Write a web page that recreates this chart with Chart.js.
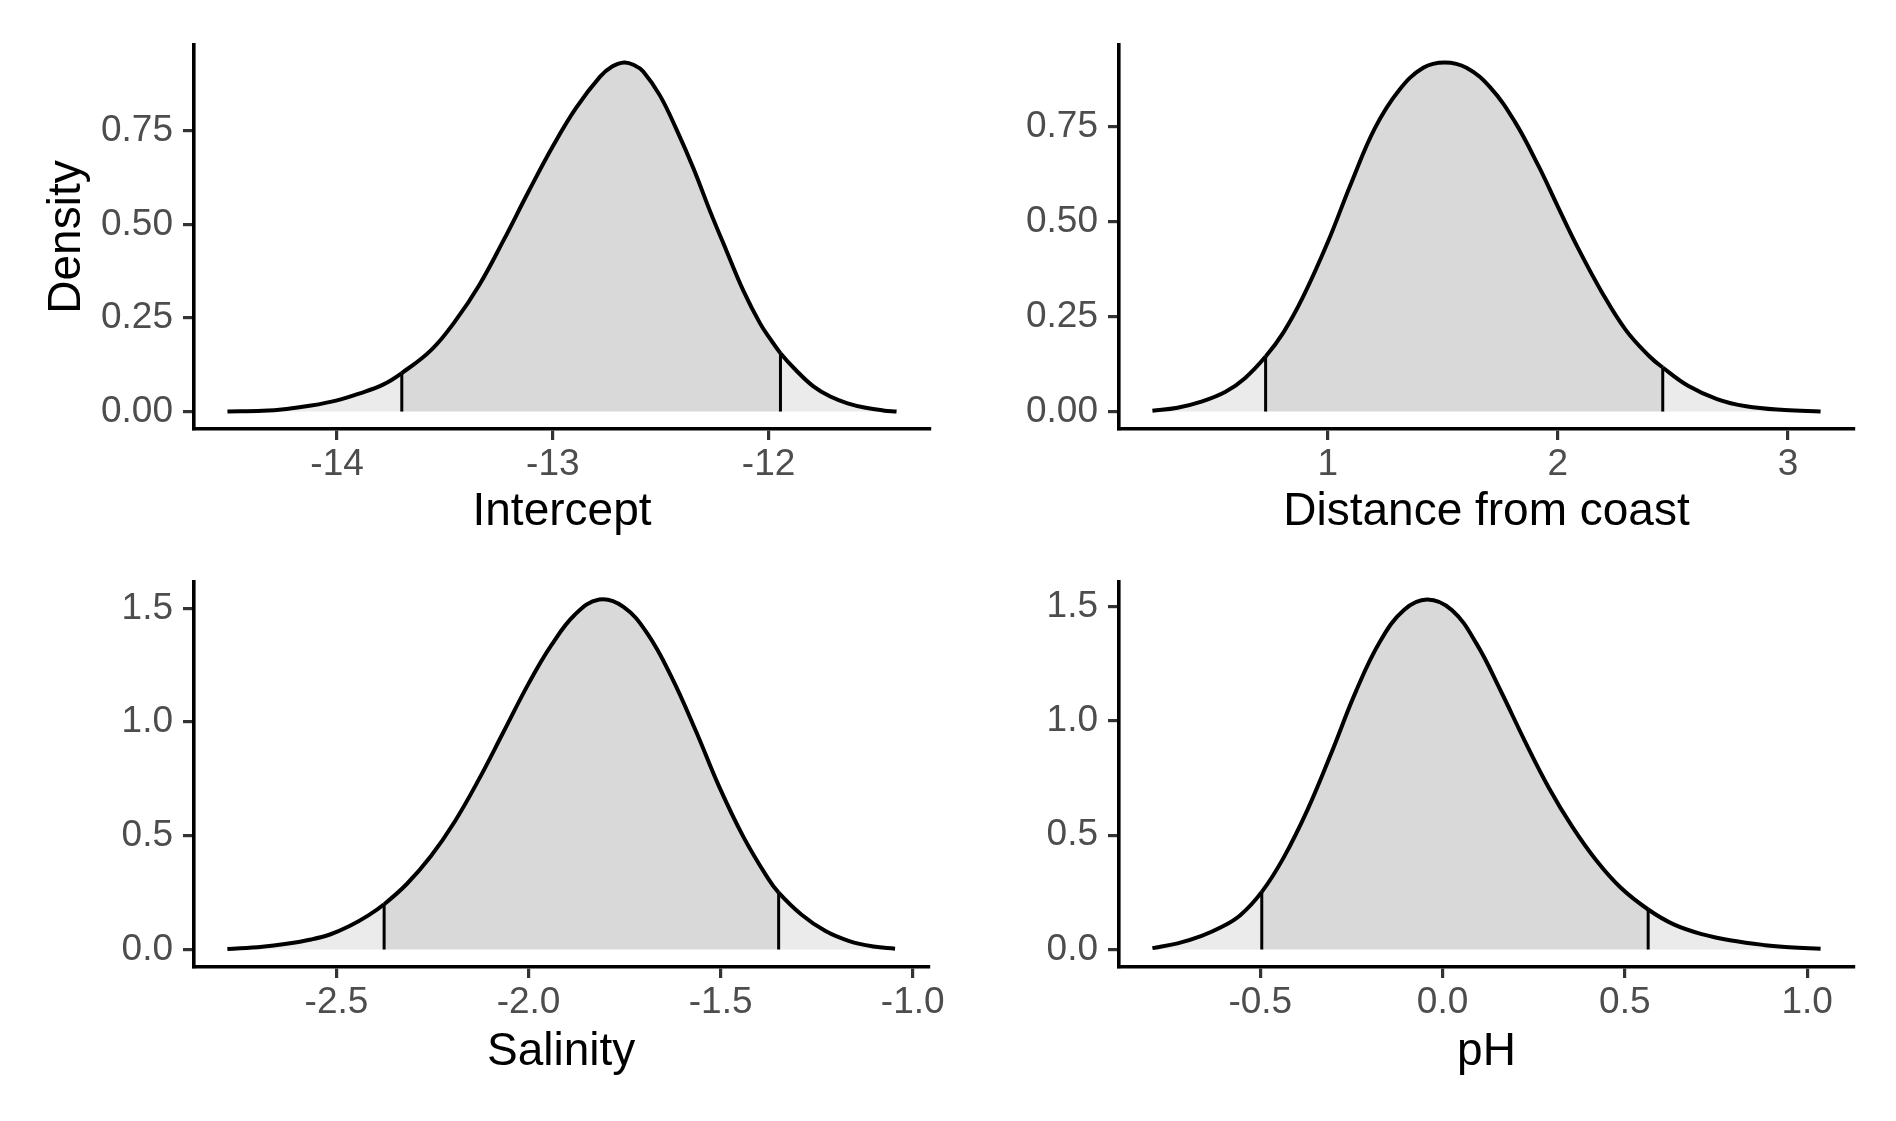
<!DOCTYPE html>
<html>
<head>
<meta charset="utf-8">
<title>Posterior densities</title>
<script src="https://cdn.jsdelivr.net/npm/chart.js@4.4.1/dist/chart.umd.min.js"></script>
<style>
  body { margin: 0; background: #ffffff; }
  #wrap { position: relative; width: 1896px; height: 1121px; overflow: hidden; }
  #wrap canvas { position: absolute; }
</style>
</head>
<body>
<div id="wrap">
  <canvas id="pIntercept" width="948" height="560" style="left:0px;top:0px"></canvas>
  <canvas id="pDistance" width="948" height="560" style="left:948px;top:0px"></canvas>
  <canvas id="pSalinity" width="948" height="621" style="left:0px;top:500px"></canvas>
  <canvas id="pPH" width="948" height="621" style="left:948px;top:500px"></canvas>
</div>
<script>
// Intercept posterior density
const interceptX = [-14.508, -14.345, -14.234, -14.12, -14.0, -13.898, -13.787, -13.563, -13.451, -13.34, -13.228, -13.116, -13.0, -12.893, -12.781, -12.725, -12.669, -12.62, -12.581, -12.504, -12.426, -12.349, -12.271, -12.194, -12.116, -12.039, -11.99, -11.874, -11.794, -11.714, -11.634, -11.55, -11.47, -11.407];
const interceptDens = [0.0, 0.002, 0.007, 0.016, 0.030, 0.048, 0.072, 0.165, 0.243, 0.339, 0.458, 0.584, 0.709, 0.811, 0.895, 0.922, 0.933, 0.925, 0.909, 0.845, 0.753, 0.651, 0.535, 0.428, 0.322, 0.235, 0.192, 0.111, 0.068, 0.040, 0.022, 0.010, 0.003, 0.0];
const interceptCI = [-13.70, -11.945];
const interceptCIDens = [0.103, 0.156];

// Distance from coast
const distanceX = [0.238, 0.347, 0.451, 0.556, 0.640, 0.807, 0.891, 1.0, 1.1, 1.205, 1.31, 1.415, 1.509, 1.603, 1.708, 1.813, 1.917, 2.0, 2.085, 2.19, 2.294, 2.399, 2.566, 2.692, 2.818, 2.985, 3.142];
const distanceDens = [0.002, 0.010, 0.026, 0.052, 0.088, 0.208, 0.300, 0.446, 0.599, 0.747, 0.847, 0.906, 0.920, 0.906, 0.853, 0.764, 0.646, 0.540, 0.434, 0.316, 0.216, 0.145, 0.068, 0.033, 0.014, 0.004, 0.0];
const distanceCI = [0.730, 2.456];
const distanceCIDens = [0.145, 0.116];

// Salinity
const salinityX = [-2.784, -2.693, -2.63, -2.566, -2.517, -2.466, -2.417, -2.317, -2.254, -2.192, -2.129, -2.066, -2.0, -1.941, -1.879, -1.816, -1.753, -1.691, -1.628, -1.565, -1.503, -1.44, -1.378, -1.29, -1.227, -1.165, -1.102, -1.046];
const salinityDens = [0.002, 0.012, 0.025, 0.044, 0.066, 0.103, 0.150, 0.288, 0.411, 0.563, 0.749, 0.954, 1.169, 1.337, 1.473, 1.539, 1.507, 1.39, 1.199, 0.963, 0.713, 0.493, 0.316, 0.154, 0.081, 0.037, 0.013, 0.003];
const salinityCI = [-2.376, -1.349];
const salinityCIDens = [0.199, 0.25];

// pH
const phX = [-0.796, -0.727, -0.661, -0.608, -0.555, -0.436, -0.37, -0.304, -0.238, -0.172, -0.106, -0.042, 0.026, 0.093, 0.159, 0.225, 0.291, 0.357, 0.423, 0.489, 0.634, 0.714, 0.793, 0.885, 0.951, 1.037];
const phDens = [0.006, 0.027, 0.060, 0.097, 0.150, 0.402, 0.613, 0.864, 1.128, 1.346, 1.485, 1.531, 1.484, 1.338, 1.133, 0.914, 0.709, 0.534, 0.387, 0.27, 0.11, 0.066, 0.039, 0.019, 0.010, 0.003];
const phCI = [-0.496, 0.564];
const phCIDens = [0.252, 0.175];

// Tick values and labels
const interceptTicks = [-14, -13, -12];
const interceptTickLabels = ['-14', '-13', '-12'];
const distanceTicks = [1, 2, 3];
const distanceTickLabels = ['1', '2', '3'];
const salinityTicks = [-2.5, -2.0, -1.5, -1.0];
const salinityTickLabels = ['-2.5', '-2.0', '-1.5', '-1.0'];
const phTicks = [-0.5, 0.0, 0.5, 1.0];
const phTickLabels = ['-0.5', '0.0', '0.5', '1.0'];
const densTicksTop = [0, 0.25, 0.5, 0.75];
const densTickLabelsTop = ['0.00', '0.25', '0.50', '0.75'];
const densTicksBottom = [0, 0.5, 1.0, 1.5];
const densTickLabelsBottom = ['0.0', '0.5', '1.0', '1.5'];

const FONT = '"Liberation Sans", Arial, Helvetica, sans-serif';
const DARK_FILL = '#d9d9d9';
const LIGHT_FILL = '#ebebeb';

// Build one density panel
function makePanel(canvasId, opt) {
    const canvas = document.getElementById(canvasId);
    const W = canvas.width;
    const H = canvas.height;

    // Curve points, with the interval bounds merged in
    const pts = opt.xs.map((x, i) => ({ x: x, y: opt.dens[i] }));
    pts.push({ x: opt.ci[0], y: opt.ciDens[0] }, { x: opt.ci[1], y: opt.ciDens[1] });
    pts.sort((a, b) => a.x - b.x);

    // ggplot style 5% expansion
    const xMin = Math.min(...opt.xs), xMax = Math.max(...opt.xs);
    const xPad = (xMax - xMin) * 0.05;
    const yMax = Math.max(...opt.dens);
    const yPad = yMax * 0.05;

    // darker fill inside the interval, lighter in the tails
    const inside = function(ctx) {
        const a = ctx.p0.parsed.x, b = ctx.p1.parsed.x;
        return (a >= opt.ci[0] - 1e-9 && b <= opt.ci[1] + 1e-9) ? DARK_FILL : LIGHT_FILL;
    };

    const ciLine = function(x, h) {
        return {
            data: [{ x: x, y: 0 }, { x: x, y: h }],
            borderColor: '#000000',
            borderWidth: 3,
            pointRadius: 0,
            tension: 0,
            fill: false
        };
    };

    return new Chart(canvas, {
        type: 'line',
        data: {
            datasets: [
                {
                    data: pts,
                    fill: 'origin',
                    backgroundColor: LIGHT_FILL,
                    borderColor: '#000000',
                    borderWidth: 4,
                    pointRadius: 0,
                    tension: 0.4,
                    segment: { backgroundColor: inside }
                },
                ciLine(opt.ci[0], opt.ciDens[0]),
                ciLine(opt.ci[1], opt.ciDens[1])
            ]
        },
        options: {
            responsive: false,
            animation: false,
            devicePixelRatio: 1,
            events: [],
            layout: {
                padding: { left: 0, top: opt.box.top, right: W - opt.box.right, bottom: 0 }
            },
            plugins: {
                legend: { display: false },
                tooltip: { enabled: false },
                filler: { drawTime: 'beforeDatasetsDraw' }
            },
            scales: {
                x: {
                    type: 'linear',
                    min: xMin - xPad,
                    max: xMax + xPad,
                    afterBuildTicks: function(scale) {
                        scale.ticks = opt.xTicks.map(v => ({ value: v }));
                    },
                    afterFit: function(scale) {
                        scale.height = H - opt.box.bottom;
                    },
                    grid: {
                        drawOnChartArea: false,
                        drawTicks: true,
                        tickLength: 11,
                        color: '#333333',
                        lineWidth: 3.2
                    },
                    border: { display: true, color: '#000000', width: 3.6 },
                    ticks: {
                        autoSkip: false,
                        maxRotation: 0,
                        padding: 3,
                        color: '#4d4d4d',
                        font: { family: FONT, size: 37 },
                        callback: function(value, index) {
                            return opt.xLabels[index];
                        }
                    },
                    title: {
                        display: true,
                        text: opt.title,
                        color: '#000000',
                        font: { family: FONT, size: 46 },
                        padding: { top: 0, bottom: opt.titlePad }
                    }
                },
                y: {
                    type: 'linear',
                    min: -yPad,
                    max: yMax + yPad,
                    afterBuildTicks: function(scale) {
                        scale.ticks = opt.yTicks.map(v => ({ value: v }));
                    },
                    afterFit: function(scale) {
                        scale.width = opt.box.left;
                    },
                    grid: {
                        drawOnChartArea: false,
                        drawTicks: true,
                        tickLength: 11,
                        color: '#333333',
                        lineWidth: 3.2
                    },
                    border: { display: true, color: '#000000', width: 3.6 },
                    ticks: {
                        autoSkip: false,
                        padding: 10,
                        color: '#4d4d4d',
                        font: { family: FONT, size: 37 },
                        callback: function(value, index) {
                            return opt.yLabels[index];
                        }
                    },
                    title: {
                        display: !!opt.yTitle,
                        text: opt.yTitle || '',
                        color: '#000000',
                        font: { family: FONT, size: 46 },
                        padding: { top: 40, bottom: 0 }
                    }
                }
            }
        }
    });
}

// Top row
makePanel('pIntercept', {
    xs: interceptX, dens: interceptDens, ci: interceptCI, ciDens: interceptCIDens,
    xTicks: interceptTicks, xLabels: interceptTickLabels,
    yTicks: densTicksTop, yLabels: densTickLabelsTop,
    title: 'Intercept', yTitle: 'Density', titlePad: 20,
    box: { left: 194, right: 930, top: 45, bottom: 429 }
});
makePanel('pDistance', {
    xs: distanceX, dens: distanceDens, ci: distanceCI, ciDens: distanceCIDens,
    xTicks: distanceTicks, xLabels: distanceTickLabels,
    yTicks: densTicksTop, yLabels: densTickLabelsTop,
    title: 'Distance from coast', titlePad: 20,
    box: { left: 171, right: 906, top: 45, bottom: 429 }
});

// Bottom row (canvas starts at y=500 so the top tick label has room)
makePanel('pSalinity', {
    xs: salinityX, dens: salinityDens, ci: salinityCI, ciDens: salinityCIDens,
    xTicks: salinityTicks, xLabels: salinityTickLabels,
    yTicks: densTicksBottom, yLabels: densTickLabelsBottom,
    title: 'Salinity', titlePad: 41,
    box: { left: 194, right: 929, top: 82, bottom: 467 }
});
makePanel('pPH', {
    xs: phX, dens: phDens, ci: phCI, ciDens: phCIDens,
    xTicks: phTicks, xLabels: phTickLabels,
    yTicks: densTicksBottom, yLabels: densTickLabelsBottom,
    title: 'pH', titlePad: 41,
    box: { left: 171, right: 906, top: 82, bottom: 467 }
});
</script>
</body>
</html>
